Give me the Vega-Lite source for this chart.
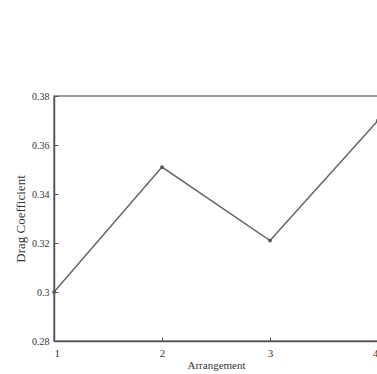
{
  "$schema": "https://vega.github.io/schema/vega-lite/v6.json",
  "autosize": {"type": "none"},
  "padding": {"left": 54, "top": 96, "right": 0, "bottom": 33},
  "width": 324,
  "height": 245,
  "background": "white",
  "config": {
    "view": {"stroke": "#777", "strokeWidth": 1.5},
    "font": "Liberation Serif",
    "axis": {
      "grid": false,
      "domainColor": "#555",
      "domainWidth": 1.5,
      "tickColor": "#555",
      "labelColor": "#333",
      "titleColor": "#333",
      "labelFont": "Liberation Serif",
      "titleFont": "Liberation Serif",
      "titleFontWeight": "normal",
      "labelFontSize": 10,
      "titleFontSize": 12
    }
  },
  "data": {
    "values": [
      {"arrangement": 1, "cd": 0.300},
      {"arrangement": 2, "cd": 0.351},
      {"arrangement": 3, "cd": 0.321},
      {"arrangement": 4, "cd": 0.370}
    ]
  },
  "mark": {"type": "line", "color": "#666", "strokeWidth": 1.5, "point": {"filled": true, "color": "#555", "size": 14}},
  "encoding": {
    "x": {
      "field": "arrangement",
      "type": "quantitative",
      "scale": {"domain": [1, 4], "nice": false, "zero": false},
      "axis": {"title": "Arrangement", "values": [1, 2, 3, 4], "format": "d", "tickSize": -4, "labelPadding": 10, "titlePadding": 1, "titleFontSize": 11, "labelFontSize": 11}
    },
    "y": {
      "field": "cd",
      "type": "quantitative",
      "scale": {"domain": [0.28, 0.38], "nice": false, "zero": false},
      "axis": {"title": "Drag Coefficient", "values": [0.28, 0.3, 0.32, 0.34, 0.36, 0.38], "format": ".2~f", "tickSize": -4, "labelPadding": 9, "titlePadding": 4, "titleFontSize": 13}
    }
  }
}
